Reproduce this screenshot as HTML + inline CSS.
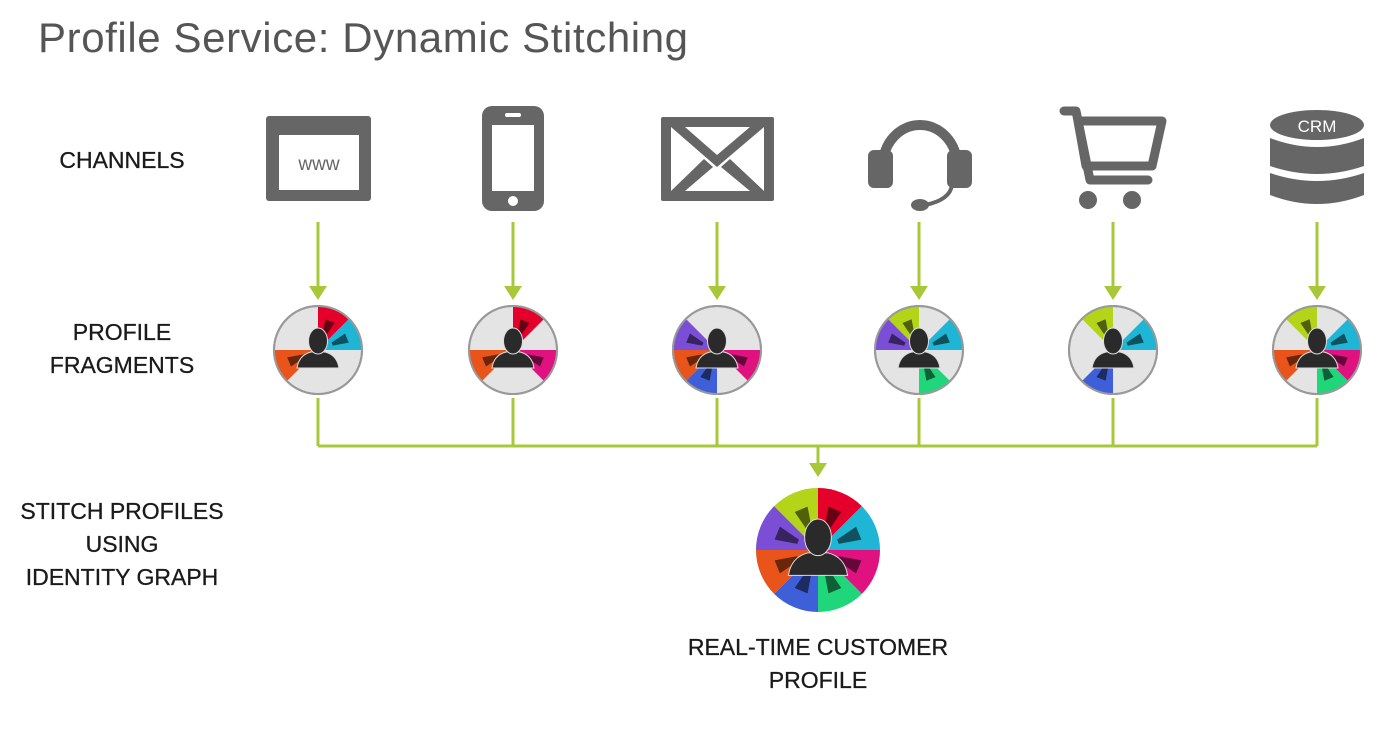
<!DOCTYPE html>
<html><head><meta charset="utf-8"><style>
body{margin:0;width:1400px;height:734px;background:#fff;overflow:hidden;font-family:"Liberation Sans",sans-serif}
svg{position:absolute;left:0;top:0}
</style></head><body>
<svg id="s" width="1400" height="734" viewBox="0 0 1400 734" xmlns="http://www.w3.org/2000/svg">
<text x="38" y="52" font-size="42" fill="#555" letter-spacing="0.6" font-family="Liberation Sans, sans-serif">Profile Service: Dynamic Stitching</text>
<g font-size="23" fill="#1a1a1a" text-anchor="middle" font-family="Liberation Sans, sans-serif" stroke="#1a1a1a" stroke-width="0.3">
<text x="122" y="168">CHANNELS</text>
<text x="122" y="340">PROFILE</text><text x="122" y="373">FRAGMENTS</text>
<text x="122" y="519">STITCH PROFILES</text><text x="122" y="552">USING</text><text x="122" y="585">IDENTITY GRAPH</text>
<text x="818" y="655">REAL-TIME CUSTOMER</text><text x="818" y="688">PROFILE</text>
</g>
<g stroke="#a8c83a" stroke-width="3" fill="none">
<path d="M318 222V290M513 222V290M717 222V290M919 222V290M1113 222V290M1317 222V290"/>
<path d="M318 398V446M513 398V446M717 398V446M919 398V446M1113 398V446M1317 398V446M318 446H1317M818 446V468"/>
</g>
<g fill="#a8c83a">
<path d="M309 286L327 286L318 300Z"/><path d="M504 286L522 286L513 300Z"/><path d="M708 286L726 286L717 300Z"/>
<path d="M910 286L928 286L919 300Z"/><path d="M1104 286L1122 286L1113 300Z"/><path d="M1308 286L1326 286L1317 300Z"/>
<path d="M809 463L827 463L818 477Z"/>
</g>
<g fill="#666">
<rect x="266" y="116" width="105" height="85" rx="3"/>
<rect x="279" y="135" width="80" height="55" fill="#fff"/>
<text x="319" y="170" font-size="19" text-anchor="middle" fill="#666" font-family="Liberation Sans, sans-serif">www</text>
<rect x="482" y="106" width="62" height="105" rx="10"/>
<rect x="492" y="125" width="42" height="66" fill="#fff"/>
<rect x="505" y="113" width="16" height="4" rx="2" fill="#fff"/>
<circle cx="513" cy="201" r="5" fill="#fff"/>
<rect x="661" y="117" width="113" height="84" rx="2"/>
<rect x="671" y="127" width="93" height="64" fill="#fff"/>
<path d="M671 127L717 167L764 127H750L717 155L685 127Z"/>
<path d="M671 191L704 159L713 167L685 191ZM764 191L730 159L721 167L750 191Z"/>
<path d="M883 165A37 40 0 0 1 957 165" stroke="#666" stroke-width="10" fill="none"/>
<rect x="868" y="150" width="25" height="38" rx="6"/>
<rect x="947" y="150" width="25" height="38" rx="6"/>
<path d="M952 185Q950 200 925 205" stroke="#666" stroke-width="4" fill="none"/>
<ellipse cx="920" cy="205" rx="9" ry="6"/>
<path d="M1064 111H1076L1090 180H1148" stroke="#666" stroke-width="9" fill="none" stroke-linecap="round" stroke-linejoin="round"/>
<path d="M1078 121H1162L1152 166H1086Z" stroke="#666" stroke-width="9" fill="none" stroke-linejoin="round"/>
<circle cx="1088" cy="200" r="9"/><circle cx="1132" cy="200" r="9"/>
<ellipse cx="1317" cy="125" rx="47" ry="15"/>
<path d="M1270 138Q1317 156 1364 138V166Q1317 182 1270 166Z"/>
<path d="M1270 173Q1317 189 1364 173V195Q1317 213 1270 195Z"/>
<text x="1317" y="132" font-size="17" text-anchor="middle" fill="#fff" font-family="Liberation Sans, sans-serif">CRM</text>
</g>
<g id="pies"></g>
</svg>
<script>
var C=["#e5002b","#1fb6d6","#e0127f","#1fd67a","#3e5fd8","#e8541a","#7b4ed6","#b4d41a"];
var g=document.getElementById('pies');var ns="http://www.w3.org/2000/svg";
function el(t,a){var e=document.createElementNS(ns,t);for(var k in a)e.setAttribute(k,a[k]);g.appendChild(e);return e}
function pt(cx,cy,r,a){a=a*Math.PI/180;return [cx+r*Math.sin(a),cy-r*Math.cos(a)]}
function pie(cx,cy,r,cols,full){
 el('circle',{cx:cx,cy:cy,r:r,fill:'#e4e4e4',stroke:full?'none':'#999','stroke-width':2});
 cols.forEach(function(i){var a1=i*45,a2=a1+45,p1=pt(cx,cy,r,a1),p2=pt(cx,cy,r,a2);
  el('path',{d:'M'+cx+' '+cy+'L'+p1+'A'+r+' '+r+' 0 0 1 '+p2+'Z',fill:C[i]});
  var m=a1+22.5,q1=pt(cx,cy,r*0.35,m-6),q2=pt(cx,cy,r*0.72,m-9),q3=pt(cx,cy,r*0.72,m+9),q4=pt(cx,cy,r*0.35,m+6);
  el('path',{d:'M'+q1+'L'+q2+'L'+q3+'L'+q4+'Z',fill:'rgba(0,0,0,0.55)'});});
 if(!full)el('circle',{cx:cx,cy:cy,r:r,fill:'none',stroke:'#999','stroke-width':2});
 var s=r/44;
 el('path',{d:'M'+(cx-21*s)+' '+(cy+18*s)+'Q'+(cx-19*s)+' '+(cy+5*s)+' '+(cx-7*s)+' '+(cy+2*s)+'H'+(cx+7*s)+'Q'+(cx+19*s)+' '+(cy+5*s)+' '+(cx+21*s)+' '+(cy+18*s)+'Z',fill:'#2a2a2a',stroke:'#ddd','stroke-width':1});
 el('ellipse',{cx:cx,cy:cy-9*s,rx:9.5*s,ry:13*s,fill:'#2a2a2a',stroke:'#ddd','stroke-width':1});
}
pie(318,350,44,[0,1,5]);pie(513,350,44,[0,2,5]);pie(717,350,44,[6,5,4,2]);
pie(919,350,44,[7,1,6,3]);pie(1113,350,44,[7,1,4]);pie(1317,350,44,[7,1,2,3,5]);
pie(818,550,62,[0,1,2,3,4,5,6,7],true);
</script>
</body></html>
